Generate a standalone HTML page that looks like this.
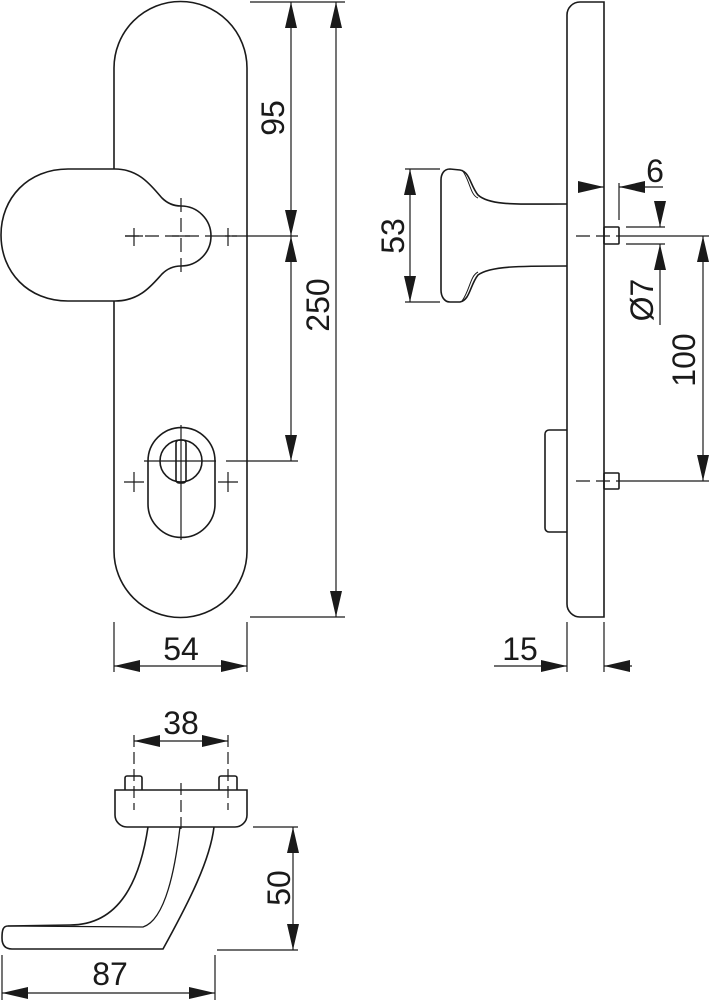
<!DOCTYPE html>
<html><head><meta charset="utf-8"><style>
html,body{margin:0;padding:0;background:#fff}
svg{display:block}
text{font-family:"Liberation Sans",sans-serif;font-size:32px;fill:#1a1a1a}
</style></head><body>
<svg width="709" height="1000" viewBox="0 0 709 1000" xmlns="http://www.w3.org/2000/svg">
<defs>
<marker id="a" markerWidth="26" markerHeight="12" refX="26" refY="6" orient="auto" markerUnits="userSpaceOnUse"><path d="M0,0 L26,6 L0,12 Z" fill="#1a1a1a"/></marker>
<marker id="b" markerWidth="26" markerHeight="12" refX="0" refY="6" orient="auto" markerUnits="userSpaceOnUse"><path d="M26,0 L0,6 L26,12 Z" fill="#1a1a1a"/></marker>
</defs>
<g fill="none" stroke="#1a1a1a" stroke-width="1.6">
<path d="M114,169 L114,68 A66.5,66.5 0 0 1 247,68 L247,551 A66.5,66.5 0 0 1 114,551 L114,301"/>
<path d="M115,169 L68,169 C28,169 1,198 1,235 C1,272 28,301 68,301 L115,301 C140,301 152,285 162,274 C168,268 174,266 181,266 A30,30 0 0 0 181,206 C174,206 168,204 162,198 C152,187 140,169 115,169 Z"/>
<path d="M148,461 A33.5,33.5 0 0 1 215,461 L215,504 A33.5,33.5 0 0 1 148,504 Z"/>
<circle cx="181" cy="461" r="21"/>
<rect x="176" y="440" width="10" height="43" rx="3"/>
</g>
<g stroke="#1a1a1a" stroke-width="1.2" fill="none">
<path d="M125,236 H230" stroke-dasharray="14,6"/>
<path d="M181,198 V274" stroke-dasharray="14,6"/>
<path d="M134,228 V246 M125,236 H143 M228,228 V246 M219,236 H237 M172,236 H190"/>
<path d="M232,236 H298"/>
<path d="M181,425 V540 M144,461 H216 M226,461 H298"/>
<path d="M134,472 V492 M124,482 H144 M228,472 V492 M218,482 H238"/>
<path d="M250,2 H345 M250,617 H345 M114,622 V672 M247,622 V672"/>
<path d="M291,2 V236" marker-start="url(#b)" marker-end="url(#a)"/>
<path d="M291,236 V461" marker-start="url(#b)" marker-end="url(#a)"/>
<path d="M336,2 V617" marker-start="url(#b)" marker-end="url(#a)"/>
<path d="M114,666 H247" marker-start="url(#b)" marker-end="url(#a)"/>
</g>
<g fill="none" stroke="#1a1a1a" stroke-width="1.6">
<path d="M604,2 H580 A13,13 0 0 0 567,15 V604 A13,13 0 0 0 580,617 H604 Z"/>
<path d="M567,204 C520,204 490,206 478,195 C470,185 470,172 460,170 L450,169 C444,169 441,174 441,180 V290 C441,296 444,302 450,302 L460,302 C470,300 470,285 478,275 C490,266 520,266 567,266"/>
<path d="M462,170 C470,180 470,195 478,198 M462,301 C470,290 470,276 478,272" stroke-width="1"/>
<path d="M567,430 H549 A4,4 0 0 0 545,434 V528 A4,4 0 0 0 549,532 H567"/>
<rect x="604" y="227" width="15" height="17" rx="1"/>
<rect x="604" y="473" width="15" height="16" rx="1"/>
</g>
<g stroke="#1a1a1a" stroke-width="1.2" fill="none">
<path d="M576,236 H632" stroke-dasharray="14,6"/>
<path d="M576,481 H632" stroke-dasharray="14,6"/>
<path d="M630,236 H709 M630,481 H709 M626,227 H665 M626,244 H665"/>
<path d="M405,169 H440 M405,302 H440"/>
<path d="M410,169 V302" marker-start="url(#b)" marker-end="url(#a)"/>
<path d="M619,183 V220"/>
<path d="M578,187 H604" marker-end="url(#a)"/>
<path d="M663,187 H619" marker-end="url(#a)"/>
<path d="M660,201 V227" marker-end="url(#a)"/>
<path d="M660,325 V244" marker-end="url(#a)"/>
<path d="M703,236 V481" marker-start="url(#b)" marker-end="url(#a)"/>
<path d="M567,622 V672 M604,622 V672"/>
<path d="M494,666 H567" marker-end="url(#a)"/>
<path d="M632,666 H604" marker-end="url(#a)"/>
</g>
<g fill="none" stroke="#1a1a1a" stroke-width="1.6">
<path d="M125,790 V778 A2,2 0 0 1 127,776 H140 A2,2 0 0 1 142,778 V790"/>
<path d="M219,790 V778 A2,2 0 0 1 221,776 H235 A2,2 0 0 1 237,778 V790"/>
<path d="M115,790 H247 V815 A12,12 0 0 1 235,827 H127 A12,12 0 0 1 115,815 Z"/>
<path d="M148,827 C140,880 120,925 70,925 L8,926 C3,926 2,930 2,938 C2,945 5,949 12,949 L163,949 C190,900 210,860 214,827"/>
<path d="M180,827 C175,870 165,920 143,927 L8,926" stroke-width="1.3"/>
</g>
<g stroke="#1a1a1a" stroke-width="1.2" fill="none">
<path d="M134,735 V810 M228,735 V810 M181,783 V830" stroke-dasharray="12,5"/>
<path d="M134,741 H228" marker-start="url(#b)" marker-end="url(#a)"/>
<path d="M253,827 H298 M217,950 H298"/>
<path d="M293,827 V950" marker-start="url(#b)" marker-end="url(#a)"/>
<path d="M2,955 V1000 M215,955 V1000"/>
<path d="M2,993 H215" marker-start="url(#b)" marker-end="url(#a)"/>
</g>
<text x="181" y="660" text-anchor="middle">54</text>
<text x="520" y="660" text-anchor="middle">15</text>
<text x="181" y="734" text-anchor="middle">38</text>
<text x="110" y="985" text-anchor="middle">87</text>
<text x="655" y="182" text-anchor="middle">6</text>
<text transform="translate(284,118) rotate(-90)" text-anchor="middle">95</text>
<text transform="translate(329,305) rotate(-90)" text-anchor="middle">250</text>
<text transform="translate(404,236) rotate(-90)" text-anchor="middle">53</text>
<text transform="translate(653,300) rotate(-90)" text-anchor="middle">Ø7</text>
<text transform="translate(695,360) rotate(-90)" text-anchor="middle">100</text>
<text transform="translate(290,888) rotate(-90)" text-anchor="middle">50</text>
</svg>
</body></html>
